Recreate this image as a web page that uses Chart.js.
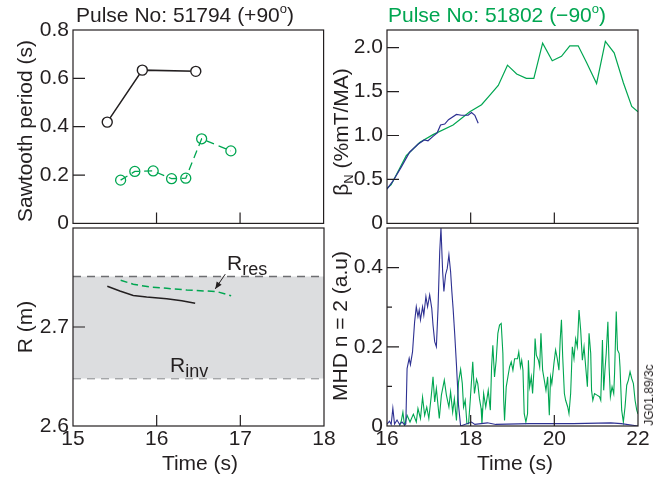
<!DOCTYPE html>
<html>
<head>
<meta charset="utf-8">
<script src="https://cdn.jsdelivr.net/npm/chart.js@4.4.1/dist/chart.umd.min.js"></script>
<style>
  body { margin: 0; background: #fff; }
  #fig { position: relative; width: 664px; height: 482px; overflow: hidden;
         font-family: "Liberation Sans", Arial, sans-serif; color: #231f20; }
  canvas { position: absolute; }
  .t { position: absolute; font-size: 21px; line-height: 1; white-space: nowrap; }
  .c { transform: translate(-50%, -50%); }
  .rot { transform: translate(-50%, -50%) rotate(-90deg); }
  .t sup { font-size: 13px; vertical-align: 9px; line-height: 0; }
  .t sub { vertical-align: -5px; line-height: 0; }
</style>
</head>
<body>
<div id="fig">
  <canvas id="tl" width="330" height="240" style="left:0;top:0"></canvas>
  <canvas id="tr" width="334" height="240" style="left:330px;top:0"></canvas>
  <canvas id="bl" width="345" height="282" style="left:0;top:200px"></canvas>
  <canvas id="br" width="334" height="282" style="left:330px;top:200px"></canvas>

  <div class="t c" style="left:185px;top:14px">Pulse No: 51794 (+90<sup>o</sup>)</div>
  <div class="t c" style="left:497px;top:14px;color:#00a651">Pulse No: 51802 (&minus;90<sup>o</sup>)</div>
  <div class="t rot" style="left:24px;top:131px">Sawtooth period (s)</div>
  <div class="t rot" style="left:24px;top:327px">R (m)</div>
  <div class="t rot" style="left:340px;top:132px">&beta;<sub style="font-size:13px">N</sub> (%mT/MA)</div>
  <div class="t rot" style="left:339px;top:326px">MHD n = 2 (a.u)</div>
  <div class="t c" style="left:200px;top:462px">Time (s)</div>
  <div class="t c" style="left:515px;top:462px">Time (s)</div>
  <div class="t" style="left:227px;top:252px">R<sub style="font-size:18px">res</sub></div>
  <div class="t" style="left:170px;top:354px">R<sub style="font-size:18px">inv</sub></div>
  <div class="t rot" style="left:649px;top:395px;font-size:12px">JG01.89/3c</div>
</div>

<script>
const INK = '#231f20';
const GREEN = '#00a651';
const BLUE = '#2e3192';
const TICK_FONT = { family: '"Liberation Sans", Arial, sans-serif', size: 21 };

// sawtooth period (s) vs time, pulse 51794 (black) and 51802 (green)
const sawT51794 = [15.41, 15.83, 16.47];
const sawP51794 = [0.419, 0.634, 0.629];
const sawT51802 = [15.57, 15.74, 15.96, 16.18, 16.35, 16.54, 16.89];
const sawP51802 = [0.179, 0.215, 0.217, 0.185, 0.187, 0.35, 0.30];

// R_res (m)
const resT51794 = [15.41, 15.56, 15.72, 15.88, 16.12, 16.30, 16.46];
const resR51794 = [2.7411, 2.7363, 2.7319, 2.7302, 2.7286, 2.7265, 2.7241];
const resT51802 = [15.57, 15.72, 15.92, 16.12, 16.36, 16.60, 16.72, 16.89];
const resR51802 = [2.7472, 2.7432, 2.7404, 2.7391, 2.7374, 2.7363, 2.7357, 2.7316];
// R_inv band edges (m)
const invBand = [2.751, 2.648];
const bandT = [15, 18];

// beta_N
const betaT51802 = [16.0, 16.10, 16.46, 16.78, 17.10, 17.58, 17.98, 18.26, 18.46, 18.66, 18.88, 19.10, 19.33,
  19.51, 19.72, 19.95, 20.17, 20.37, 20.57, 20.77, 21.01, 21.22, 21.43, 21.65, 21.85, 22.0];
const betaV51802 = [0.40, 0.44, 0.77, 0.92, 1.01, 1.12, 1.27, 1.35, 1.46, 1.57, 1.80, 1.70, 1.65,
  1.65, 2.05, 1.85, 1.90, 2.02, 2.02, 1.83, 1.59, 2.07, 1.94, 1.60, 1.33, 1.27];
const betaT51794 = [16.0, 16.14, 16.34, 16.54, 16.74, 16.89, 16.98, 17.10, 17.20, 17.28, 17.38, 17.47,
  17.66, 17.78, 17.94, 18.02, 18.10, 18.18];
const betaV51794 = [0.39, 0.48, 0.64, 0.81, 0.90, 0.95, 0.94, 0.99, 1.03, 1.12, 1.13, 1.18,
  1.24, 1.23, 1.23, 1.26, 1.23, 1.14];

// MHD n=2 amplitude (a.u)
const mhdT51794 = [16.00, 16.06, 16.10, 16.14, 16.18, 16.24, 16.30, 16.36, 16.42, 16.45, 16.48, 16.53, 16.56,
  16.61, 16.66, 16.70, 16.74, 16.77, 16.80, 16.85, 16.88, 16.93, 16.97, 17.02, 17.07, 17.10, 17.14, 17.18,
  17.22, 17.26, 17.29, 17.33, 17.36, 17.40, 17.44, 17.48, 17.52, 17.55, 17.58, 17.62, 17.66, 17.71, 17.76,
  18.02, 18.10, 18.40, 18.60, 19.40, 20.45, 21.35, 21.60, 22.0];
const mhdV51794 = [0.005, 0.012, 0.004, 0.045, 0.005, 0.015, 0.004, 0.010, 0.003, 0.005, 0.145, 0.171, 0.155,
  0.187, 0.263, 0.301, 0.276, 0.293, 0.268, 0.301, 0.280, 0.327, 0.301, 0.331, 0.297, 0.255, 0.213, 0.200,
  0.297, 0.440, 0.500, 0.390, 0.340, 0.382, 0.398, 0.432, 0.390, 0.340, 0.297, 0.230, 0.155, 0.052, 0.0,
  0.010, 0.004, 0.008, 0.004, 0.006, 0.006, 0.008, 0.006, 0.0];
const mhdT51802 = [16.30, 16.34, 16.38, 16.42, 16.48, 16.55, 16.63, 16.70, 16.74, 16.80, 16.85, 16.90, 16.95,
  17.00, 17.06, 17.10, 17.14, 17.18, 17.25, 17.30, 17.37, 17.42, 17.48, 17.52, 17.57, 17.61, 17.66, 17.71,
  17.76, 17.80, 17.83, 17.87, 17.91, 17.95, 17.99, 18.05, 18.09, 18.14, 18.17, 18.21, 18.25, 18.27, 18.31,
  18.36, 18.42, 18.47, 18.50, 18.53, 18.57, 18.61, 18.65, 18.69, 18.73, 18.77, 18.79, 18.81, 18.85, 18.89,
  18.93, 18.97, 19.01, 19.05, 19.12, 19.15, 19.19, 19.22, 19.25, 19.28, 19.32, 19.36, 19.38, 19.41, 19.45,
  19.48, 19.52, 19.54, 19.57, 19.62, 19.65, 19.68, 19.72, 19.76, 19.80, 19.84, 19.88, 19.91, 19.94, 19.99,
  20.03, 20.07, 20.11, 20.14, 20.17, 20.20, 20.24, 20.27, 20.32, 20.35, 20.39, 20.43, 20.47, 20.51, 20.55,
  20.59, 20.63, 20.67, 20.71, 20.75, 20.79, 20.83, 20.87, 20.89, 20.92, 20.96, 21.02, 21.08, 21.11, 21.15,
  21.18, 21.21, 21.24, 21.28, 21.31, 21.34, 21.38, 21.42, 21.44, 21.48, 21.51, 21.55, 21.57, 21.61, 21.65,
  21.69, 21.73, 21.77, 21.81, 21.85, 21.89, 21.93, 21.97, 22.00];
const mhdV51802 = [0.0, 0.012, 0.035, 0.0, 0.027, 0.010, 0.030, 0.010, 0.044, 0.019, 0.073, 0.027, 0.048,
  0.019, 0.078, 0.124, 0.061, 0.095, 0.019, 0.078, 0.116, 0.078, 0.048, 0.086, 0.035, 0.069, 0.014, 0.111,
  0.143, 0.107, 0.048, 0.065, 0.006, 0.006, 0.065, 0.162, 0.082, 0.118, 0.107, 0.069, 0.044, 0.006, 0.082,
  0.048, 0.090, 0.040, 0.149, 0.204, 0.124, 0.166, 0.234, 0.255, 0.259, 0.183, 0.065, 0.014, 0.099, 0.124,
  0.149, 0.162, 0.141, 0.170, 0.170, 0.187, 0.149, 0.166, 0.141, 0.031, 0.010, 0.031, 0.166, 0.099, 0.124,
  0.082, 0.154, 0.221, 0.179, 0.166, 0.149, 0.234, 0.141, 0.116, 0.090, 0.124, 0.027, 0.124, 0.107, 0.158,
  0.192, 0.170, 0.141, 0.217, 0.268, 0.175, 0.082, 0.065, 0.048, 0.031, 0.082, 0.200, 0.170, 0.220, 0.200,
  0.293, 0.242, 0.166, 0.200, 0.149, 0.099, 0.234, 0.183, 0.090, 0.065, 0.082, 0.078, 0.074, 0.065, 0.217,
  0.090, 0.141, 0.183, 0.263, 0.149, 0.074, 0.099, 0.082, 0.133, 0.289, 0.192, 0.183, 0.149, 0.040, 0.010,
  0.048, 0.103, 0.116, 0.137, 0.120, 0.107, 0.065, 0.040, 0.030];

// inward tick marks
const leftTimeTicks = [16, 17];
const rightTimeTicks = [18, 20];
const sawTicks = [0.2, 0.4, 0.6];
const rTicks = [2.7];
const betaTicks = [0.5, 1.0, 1.5, 2.0];
const mhdTicks = [0.2, 0.4];
const mhdMinorTicks = [0.1, 0.3];

const pts = (xs, ys) => xs.map((x, i) => ({ x, y: ys[i] }));
const fmt1 = v => (v === 0 ? '0' : v.toFixed(1));

// box, inward ticks and the R_res arrow
const frame = {
  id: 'frame',
  afterDraw(chart, args, opts) {
    const { ctx, chartArea: a, scales } = chart;
    ctx.save();
    ctx.strokeStyle = INK;
    ctx.fillStyle = INK;
    ctx.lineWidth = 1.2;
    ctx.beginPath();
    (opts.xTicks || []).forEach(v => {
      const x = scales.x.getPixelForValue(v);
      ctx.moveTo(x, a.bottom); ctx.lineTo(x, a.bottom - 11);
    });
    (opts.yTicks || []).forEach(v => {
      const y = scales.y.getPixelForValue(v);
      ctx.moveTo(a.left, y); ctx.lineTo(a.left + 12, y);
    });
    (opts.yMinor || []).forEach(v => {
      const y = scales.y.getPixelForValue(v);
      ctx.moveTo(a.left, y); ctx.lineTo(a.left + 5, y);
    });
    ctx.stroke();
    ctx.strokeRect(a.left, a.top, a.right - a.left, a.bottom - a.top);
    if (opts.arrow) {
      const [p, q] = opts.arrow;
      const x0 = scales.x.getPixelForValue(p[0]), y0 = scales.y.getPixelForValue(p[1]);
      const x1 = scales.x.getPixelForValue(q[0]), y1 = scales.y.getPixelForValue(q[1]);
      const ang = Math.atan2(y1 - y0, x1 - x0);
      ctx.lineWidth = 1;
      ctx.beginPath(); ctx.moveTo(x0, y0); ctx.lineTo(x1, y1); ctx.stroke();
      ctx.beginPath();
      ctx.moveTo(x1, y1);
      ctx.lineTo(x1 - 7 * Math.cos(ang) + 3 * Math.sin(ang), y1 - 7 * Math.sin(ang) - 3 * Math.cos(ang));
      ctx.lineTo(x1 - 7 * Math.cos(ang) - 3 * Math.sin(ang), y1 - 7 * Math.sin(ang) + 3 * Math.cos(ang));
      ctx.closePath(); ctx.fill();
    }
    ctx.restore();
  }
};

function xAxis(min, max, step, show) {
  const axis = {
    type: 'linear', min, max, display: show,
    ticks: { stepSize: step, padding: 1, color: INK, font: TICK_FONT, maxRotation: 0, autoSkip: false },
    grid: { display: false, drawTicks: false },
    border: { display: false }
  };
  if (show) axis.afterFit = s => { s.height = 56; };
  return axis;
}

function yAxis(min, max, step, width, labels) {
  return {
    type: 'linear', min, max,
    ticks: {
      stepSize: step, padding: 4, color: INK, font: TICK_FONT, autoSkip: false, includeBounds: false,
      callback: v => (labels.some(l => Math.abs(l - v) < 1e-6) ? fmt1(v) : '')
    },
    grid: { display: false, drawTicks: false },
    border: { display: false },
    afterFit: s => { s.width = width; }
  };
}

function makeChart(id, datasets, scales, padding, frameOpts) {
  return new Chart(document.getElementById(id), {
    type: 'line',
    data: { datasets },
    options: {
      responsive: false,
      animation: false,
      devicePixelRatio: 1,
      layout: { padding },
      scales,
      elements: { line: { tension: 0 } },
      plugins: { legend: { display: false }, tooltip: { enabled: false }, frame: frameOpts }
    },
    plugins: [frame]
  });
}

// top left: sawtooth period
makeChart('tl', [
  { data: pts(sawT51794, sawP51794), borderColor: INK, borderWidth: 1.5,
    pointRadius: 5, pointBorderWidth: 1.4, pointBorderColor: INK, pointBackgroundColor: '#fff' },
  { data: pts(sawT51802, sawP51802), borderColor: GREEN, borderWidth: 1.3, borderDash: [8, 5],
    pointRadius: 5, pointBorderWidth: 1.3, pointBorderColor: GREEN, pointBackgroundColor: 'rgba(0,0,0,0)' }
], { x: xAxis(15, 18, 1, false), y: yAxis(0, 0.8, 0.2, 73, [0, 0.2, 0.4, 0.6, 0.8]) },
  { top: 30, right: 6, bottom: 12, left: 0 },
  { xTicks: leftTimeTicks, yTicks: sawTicks });

// bottom left: R_res inside the R_inv band
makeChart('bl', [
  { data: pts(resT51794, resR51794), borderColor: INK, borderWidth: 1.5, pointRadius: 0 },
  { data: pts(resT51802, resR51802), borderColor: GREEN, borderWidth: 1.5, borderDash: [7, 4], pointRadius: 0 },
  { data: pts(bandT, [invBand[0], invBand[0]]), borderColor: '#6d6e71', borderWidth: 1.5, borderDash: [8, 6],
    pointRadius: 0, fill: '+1', backgroundColor: '#dcdddf' },
  { data: pts(bandT, [invBand[1], invBand[1]]), borderColor: '#6d6e71', borderWidth: 1.5, borderDash: [8, 6],
    pointRadius: 0, fill: false }
], { x: xAxis(15, 18, 1, true), y: yAxis(2.6, 2.8, 0.1, 73, [2.6, 2.7]) },
  { top: 28, right: 21, bottom: 0, left: 0 },
  { xTicks: leftTimeTicks, yTicks: rTicks, arrow: [[16.82, 2.7534], [16.70, 2.7385]] });

// top right: beta_N
makeChart('tr', [
  { data: pts(betaT51794, betaV51794), borderColor: BLUE, borderWidth: 1.2, pointRadius: 0 },
  { data: pts(betaT51802, betaV51802), borderColor: GREEN, borderWidth: 1.2, pointRadius: 0 }
], { x: xAxis(16, 22, 2, false), y: yAxis(0, 2.2, 0.5, 57, [0, 0.5, 1.0, 1.5, 2.0]) },
  { top: 30, right: 26, bottom: 12, left: 0 },
  { xTicks: rightTimeTicks, yTicks: betaTicks });

// bottom right: MHD n=2
makeChart('br', [
  { data: pts(mhdT51794, mhdV51794), borderColor: BLUE, borderWidth: 1.1, pointRadius: 0 },
  { data: pts(mhdT51802, mhdV51802), borderColor: GREEN, borderWidth: 1.1, pointRadius: 0 }
], { x: xAxis(16, 22, 2, true), y: yAxis(0, 0.5, 0.1, 57, [0, 0.2, 0.4]) },
  { top: 28, right: 26, bottom: 0, left: 0 },
  { xTicks: rightTimeTicks, yTicks: mhdTicks, yMinor: mhdMinorTicks });
</script>
</body>
</html>
